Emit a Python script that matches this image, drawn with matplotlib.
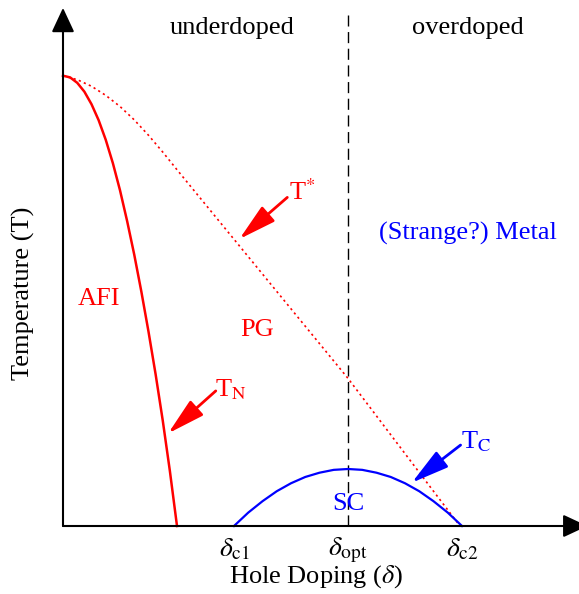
import matplotlib
matplotlib.use("Agg")
import matplotlib.pyplot as plt

plt.rcParams.update({"font.family": ["Liberation Serif", "DejaVu Serif"],
                     "mathtext.fontset": "stix"})

# ---- data (schematic) ----
# Neel temperature T_N (solid red)
tn_x = [0.0, 0.025, 0.05, 0.075, 0.1, 0.125, 0.15, 0.175, 0.2, 0.225, 0.25, 0.275, 0.3, 0.325, 0.35, 0.375, 0.4]
tn_t = [1.58, 1.574, 1.555, 1.524, 1.48, 1.424, 1.355, 1.273, 1.178, 1.07, 0.952, 0.822, 0.682, 0.532, 0.37, 0.193, 0.0]
# pseudogap T* (dotted red)
ts_x = [0.0, 0.05, 0.1, 0.15, 0.2, 0.25, 0.3, 0.35, 0.4, 0.5, 0.6, 0.7, 0.8, 0.9, 1.0, 1.1, 1.2, 1.3, 1.393]
ts_t = [1.58, 1.566, 1.543, 1.511, 1.472, 1.425, 1.371, 1.312, 1.25, 1.128, 1.006, 0.884, 0.762, 0.64, 0.518, 0.386, 0.254, 0.122, 0.0]
# superconducting dome T_C (solid blue)
sc_x = [0.6, 0.65, 0.7, 0.75, 0.8, 0.85, 0.9, 0.95, 1.0, 1.05, 1.1, 1.15, 1.2, 1.25, 1.3, 1.35, 1.4]
sc_t = [0.0, 0.047, 0.087, 0.122, 0.15, 0.172, 0.187, 0.197, 0.2, 0.197, 0.187, 0.172, 0.15, 0.122, 0.087, 0.047, 0.0]

tick_pos = [0.6, 1.0, 1.4]
tick_lab = [r"$\delta_{\rm c1}$", r"$\delta_{\rm opt}$", r"$\delta_{\rm c2}$"]
d_opt = 1.0

RED = "#ff0000"
BLUE = "#0000ff"
FS = 19

fig = plt.figure(figsize=(5.79, 5.94), dpi=100)
S = 285.0  # px per data unit
XM, YM = 1.8, 1.8
ax = fig.add_axes([63 / 579, 68 / 594, XM * S / 579, YM * S / 594])
ax.set_xlim(0, XM)
ax.set_ylim(0, YM)
ax.axis("off")

# axes with arrow heads
arr = dict(arrowstyle="-|>,head_length=1.5,head_width=0.7", mutation_scale=10,
           lw=1.5, color="black", shrinkA=0, shrinkB=0)
ax.annotate("", xy=(1.84, 0), xytext=(0, 0), arrowprops=arr, annotation_clip=False)
ax.annotate("", xy=(0, 1.818), xytext=(0, 0), arrowprops=arr, annotation_clip=False)

# optimal doping line
ax.plot([d_opt, d_opt], [0, 1.793], color="black", lw=1.0, ls=(0, (8, 4)), clip_on=False)

ax.plot(tn_x, tn_t, color=RED, lw=1.8, clip_on=False)
ax.plot(ts_x, ts_t, color=RED, lw=1.2, ls=(0, (1.3, 2.0)), clip_on=False)
ax.plot(sc_x, sc_t, color=BLUE, lw=1.6, clip_on=False)

# labelled arrows
def lab_arrow(tail, tip, c):
    ax.annotate("", xy=tip, xytext=tail, annotation_clip=False,
                arrowprops=dict(arrowstyle="-|>,head_length=1.15,head_width=0.3",
                                mutation_scale=20, lw=2, color=c,
                                shrinkA=0, shrinkB=0))

lab_arrow((0.787, 1.153), (0.619, 1.007), RED)
lab_arrow((0.536, 0.474), (0.369, 0.325), RED)
lab_arrow((1.395, 0.284), (1.224, 0.152), BLUE)
ax.text(0.793, 1.144, r"T$^{*}$", color=RED, fontsize=FS, ha="left", va="baseline")
ax.text(0.533, 0.456, r"T$_{\rm N}$", color=RED, fontsize=FS, ha="left", va="baseline")
ax.text(1.395, 0.274, r"T$_{\rm C}$", color=BLUE, fontsize=FS, ha="left", va="baseline")

# region labels
ax.text(0.593, 1.747, "underdoped", fontsize=FS, ha="center", va="center")
ax.text(1.421, 1.747, "overdoped", fontsize=FS, ha="center", va="center")
ax.text(1.421, 1.028, "(Strange?) Metal", fontsize=FS, color=BLUE, ha="center", va="center")
ax.text(0.126, 0.796, "AFI", fontsize=FS, color=RED, ha="center", va="center")
ax.text(0.681, 0.688, "PG", fontsize=FS, color=RED, ha="center", va="center")
ax.text(1.0, 0.077, "SC", fontsize=FS, color=BLUE, ha="center", va="center")

for p, t in zip(tick_pos, tick_lab):
    ax.text(p, -0.084, t, fontsize=20, ha="center", va="center")
ax.text(0.888, -0.179, r"Hole Doping ($\delta$)", fontsize=FS, ha="center", va="center")
ax.text(-0.14, 0.818, "Temperature (T)", fontsize=FS, ha="center", va="center", rotation=90)

fig.savefig("out.png", dpi=100)
